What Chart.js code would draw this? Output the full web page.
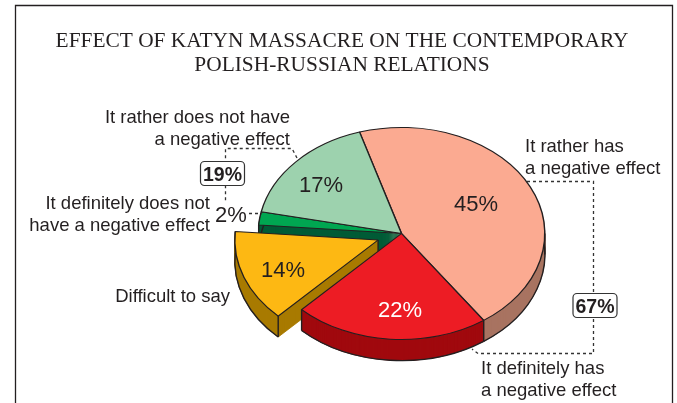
<!DOCTYPE html>
<html>
<head>
<meta charset="utf-8">
<title>Katyn massacre</title>
<script src="https://cdn.jsdelivr.net/npm/chart.js@4"></script>
<style>
    html, body { margin: 0; padding: 0; background: #fff; }
    canvas { display: block; }
</style>
</head>
<body>
<canvas id="katynChart" width="677" height="403"></canvas>
<script>
const titleLines = ["EFFECT OF KATYN MASSACRE ON THE CONTEMPORARY", "POLISH-RUSSIAN RELATIONS"];
const categories = [
    ["It rather has", "a negative effect"],
    ["It definitely has", "a negative effect"],
    ["Difficult to say"],
    ["It definitely does not", "have a negative effect"],
    ["It rather does not have", "a negative effect"]
];
const values = [45, 22, 14, 2, 17];
const bracketTotals = [67, 19];

const topColors = ["#fbaa91", "#ed1c24", "#fdb813", "#00a651", "#9dd2ae"];
const sideColors = ["#a87361", "#a0090e", "#a87a00", "#005b36", "#6d9c7c"];
const ink = "#231f20";

// pie shape
const TILT = 0.74;
const DEPTH = 21;
const CENTER_Y = 233.5;
const EXPLODED = 2;
const EXPLODE_BY = 25;

// text places: x, baseline of first line, alignment
const categoryPlace = [
    [525, 152, "left"],
    [481, 374, "left"],
    [230, 301.5, "right"],
    [210, 208.5, "right"],
    [290, 122.5, "right"]
];
const valuePlace = [[476, 205], [400, 311], [283, 271], [231, 216], [321, 186]];

function setDash(ctx, on) {
    ctx.setLineDash(on ? [3, 3] : []);
}

function polyline(ctx, pts) {
    ctx.beginPath();
    pts.forEach((p, i) => i ? ctx.lineTo(p[0], p[1]) : ctx.moveTo(p[0], p[1]));
    ctx.stroke();
}

function totalBox(ctx, cx, cy, text) {
    ctx.beginPath();
    ctx.roundRect(cx - 22, cy - 12, 44, 24, 4);
    ctx.fillStyle = "#fff";
    ctx.fill();
    ctx.strokeStyle = "#333";
    ctx.lineWidth = 1.2;
    ctx.stroke();
    ctx.fillStyle = ink;
    ctx.font = "bold 19.5px 'Liberation Sans'";
    ctx.textAlign = "center";
    ctx.fillText(text, cx, cy + 7);
}

// Moves the pulled-out slice along its middle angle, arc.offset only widens the radius
const explodePlugin = {
    id: "explode",
    afterDatasetsUpdate(chart) {
        const arc = chart.getDatasetMeta(0).data[EXPLODED];
        const mid = (arc.startAngle + arc.endAngle) / 2;
        arc.x += Math.cos(mid) * EXPLODE_BY;
        arc.y += Math.sin(mid) * EXPLODE_BY;
    }
};

// Squashes the pie into an ellipse and stacks darkened copies of each slice under it
const tiltPlugin = {
    id: "tilt",
    beforeDatasetsDraw(chart) {
        const ctx = chart.ctx;
        const arcs = chart.getDatasetMeta(0).data;
        const squash = () => {
            ctx.translate(0, CENTER_Y);
            ctx.scale(1, TILT);
            ctx.translate(0, -CENTER_Y);
        };
        const drop = DEPTH / TILT;

        ctx.save();
        squash();
        for (let d = DEPTH; d >= 1; d--) {
            ctx.save();
            ctx.translate(0, d / TILT);
            arcs.forEach((arc, i) => {
                const saved = arc.options;
                arc.options = Object.assign({}, saved, {
                    backgroundColor: sideColors[i],
                    borderColor: sideColors[i],
                    borderWidth: 1
                });
                arc.draw(ctx);
                arc.options = saved;
            });
            ctx.restore();
        }
        ctx.restore();

        // bottom rim, path built squashed but stroked flat so the pen stays even
        ctx.strokeStyle = ink;
        ctx.lineWidth = 1.4;
        arcs.forEach((arc) => {
            ctx.save();
            squash();
            ctx.beginPath();
            ctx.arc(arc.x, arc.y + drop, arc.outerRadius, arc.startAngle, arc.endAngle);
            ctx.restore();
            ctx.stroke();
        });

        // vertical edges of the sides
        const at = (arc, angle) => [arc.x + Math.cos(angle) * arc.outerRadius, arc.y + Math.sin(angle) * arc.outerRadius];
        const corners = [
            at(arcs[0], arcs[0].endAngle),
            at(arcs[1], arcs[1].endAngle),
            at(arcs[2], arcs[2].startAngle),
            at(arcs[2], arcs[2].endAngle),
            [arcs[2].x, arcs[2].y],
            at(arcs[3], arcs[3].startAngle),
            at(arcs[0], 0)
        ];
        corners.forEach((c) => {
            const y = CENTER_Y + (c[1] - CENTER_Y) * TILT;
            polyline(ctx, [[c[0], y], [c[0], y + DEPTH]]);
        });

        ctx.save();
        squash();
    },
    afterDatasetsDraw(chart) {
        chart.ctx.restore();
    }
};

const textPlugin = {
    id: "texts",
    afterDraw(chart) {
        const ctx = chart.ctx;
        ctx.save();

        // frame, open at the bottom
        ctx.strokeStyle = ink;
        ctx.lineWidth = 1.3;
        polyline(ctx, [[15.5, 403], [15.5, 5.5], [672.5, 5.5], [672.5, 403]]);

        // title
        ctx.fillStyle = ink;
        ctx.textAlign = "center";
        ctx.font = "21.4px 'Liberation Serif'";
        titleLines.forEach((line, i) => ctx.fillText(line, 342, 47 + i * 23.5));

        // dashed brackets
        ctx.strokeStyle = "#333";
        setDash(ctx, true);
        polyline(ctx, [[527, 181.5], [593.5, 181.5], [593.5, 353.5], [478, 353.5], [472, 349]]);
        polyline(ctx, [[297, 158], [292, 148.5], [225.5, 148.5], [225.5, 201]]);
        polyline(ctx, [[249, 213.5], [262, 213.5]]);
        setDash(ctx, false);

        totalBox(ctx, 595, 305.5, bracketTotals[0] + "%");
        totalBox(ctx, 222.5, 173.5, bracketTotals[1] + "%");

        // category labels
        ctx.fillStyle = ink;
        ctx.font = "18.5px 'Liberation Sans'";
        categories.forEach((lines, i) => {
            const place = categoryPlace[i];
            ctx.textAlign = place[2];
            lines.forEach((line, k) => ctx.fillText(line, place[0], place[1] + k * 22));
        });

        // slice values
        ctx.font = "22px 'Liberation Sans'";
        ctx.textAlign = "center";
        ctx.textBaseline = "middle";
        values.forEach((v, i) => {
            ctx.fillStyle = i === 1 ? "#fff" : ink;
            ctx.fillText(v + "%", valuePlace[i][0], valuePlace[i][1]);
        });
        ctx.restore();
    }
};

new Chart(document.getElementById("katynChart"), {
    type: "pie",
    data: {
        labels: categories,
        datasets: [{
            data: values,
            backgroundColor: topColors,
            borderColor: ink,
            borderWidth: 1.4,
            clip: false
        }]
    },
    options: {
        responsive: false,
        animation: false,
        events: [],
        rotation: -17,
        layout: { padding: { left: 257, right: 131, top: 89.5, bottom: 25.5 } },
        plugins: { legend: { display: false }, tooltip: { enabled: false } }
    },
    plugins: [explodePlugin, tiltPlugin, textPlugin]
});
</script>
</body>
</html>
